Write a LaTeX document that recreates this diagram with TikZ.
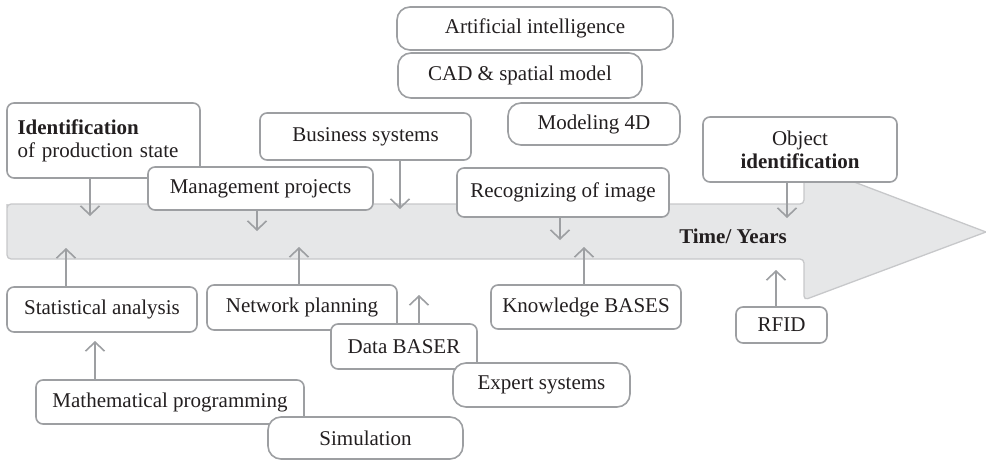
\documentclass[tikz,border=0pt]{standalone}
\usepackage{fontspec}
\setmainfont{Liberation Serif}
\usetikzlibrary{arrows.meta}
\definecolor{tlline}{HTML}{9D9FA2}
\definecolor{tlband}{HTML}{E6E7E8}
\definecolor{tledge}{HTML}{C7C8CA}
\definecolor{tlink}{HTML}{231F20}
\tikzset{
  bx/.style={draw=tlline, fill=white, line width=1.6pt, rounded corners=7pt, align=center, inner sep=2pt, text=tlink, font=\fontsize{21}{23}\selectfont},
  pill/.style={bx, rounded corners=13pt},
  band/.style={fill=tlband, draw=tledge, line width=1.3pt},
  arr/.style={-{Straight Barb[length=9pt, width=19pt]}, line width=1.6pt, color=tlline},
}

\begin{document}
\begin{tikzpicture}[x=1pt, y=-1pt]
  \useasboundingbox (0,0) rectangle (986,460);
  % the time band
  \draw[band] (7,208) [rounded corners=4pt] -- (7,204) -- (804,204) [sharp corners] -- (804,163) -- (986,232)
    [rounded corners=4pt] -- (804,300) -- (804,259) -- (7,259) -- cycle;
  \node[font=\fontsize{21}{23}\selectfont\bfseries, text=tlink] (tl) at (733,236) {Time/ Years};

  % above the band
  \node[pill, minimum width=276pt, minimum height=43pt] (ai) at (535,28.5) {Artificial intelligence};
  \node[pill, minimum width=244pt, minimum height=45pt] (cad) at (520,75.5) {CAD \& spatial model};
  \node[pill, minimum width=172pt, minimum height=42pt] (mod) at (594,124) {Modeling 4D};
  \node[bx, minimum width=211pt, minimum height=47pt] (bus) at (365.5,136.5) {Business systems};
  \node[bx, minimum width=193pt, minimum height=75pt, align=left, text width=172pt] (ident) at (103.5,140.5) {\textbf{Identification}\\of production state};
  \node[bx, minimum width=225pt, minimum height=43pt] (mgmt) at (260.5,188.5) {Management projects};
  \node[bx, minimum width=212pt, minimum height=49pt] (recog) at (563,192.5) {Recognizing of image};
  \node[bx, minimum width=194pt, minimum height=65pt] (obj) at (800,149.5) {Object\\\textbf{identification}};

  % below the band
  \node[bx, minimum width=190pt, minimum height=45pt] (stat) at (102,309.5) {Statistical analysis};
  \node[bx, minimum width=190pt, minimum height=45pt] (net) at (302,307.5) {Network planning};
  \node[bx, minimum width=146pt, minimum height=45pt] (data) at (404,346.5) {Data BASER};
  \node[bx, minimum width=190pt, minimum height=44pt] (know) at (586,307) {Knowledge BASES};
  \node[pill, minimum width=177pt, minimum height=44pt] (expert) at (541.5,385) {Expert systems};
  \node[bx, minimum width=91pt, minimum height=36pt] (rfid) at (781.5,325) {RFID};
  \node[bx, minimum width=268pt, minimum height=44pt] (math) at (170,402) {Mathematical programming};
  \node[pill, minimum width=195pt, minimum height=42pt] (sim) at (365.5,438) {Simulation};

  % arrow ends
  \foreach \n/\x/\y in {ident/90/216, mgmt/257/231, bus/400/209, recog/560/240, obj/787/218}
    {\coordinate (e\n) at (\x,\y); \draw[arr] (\n.south -| e\n) -- (e\n);}
  \foreach \n/\x/\y in {stat/66/248, net/299/247, data/419/295, know/584/247, rfid/776/270, math/95/341}
    {\coordinate (e\n) at (\x,\y); \draw[arr] (\n.north -| e\n) -- (e\n);}
\end{tikzpicture}
\end{document}
